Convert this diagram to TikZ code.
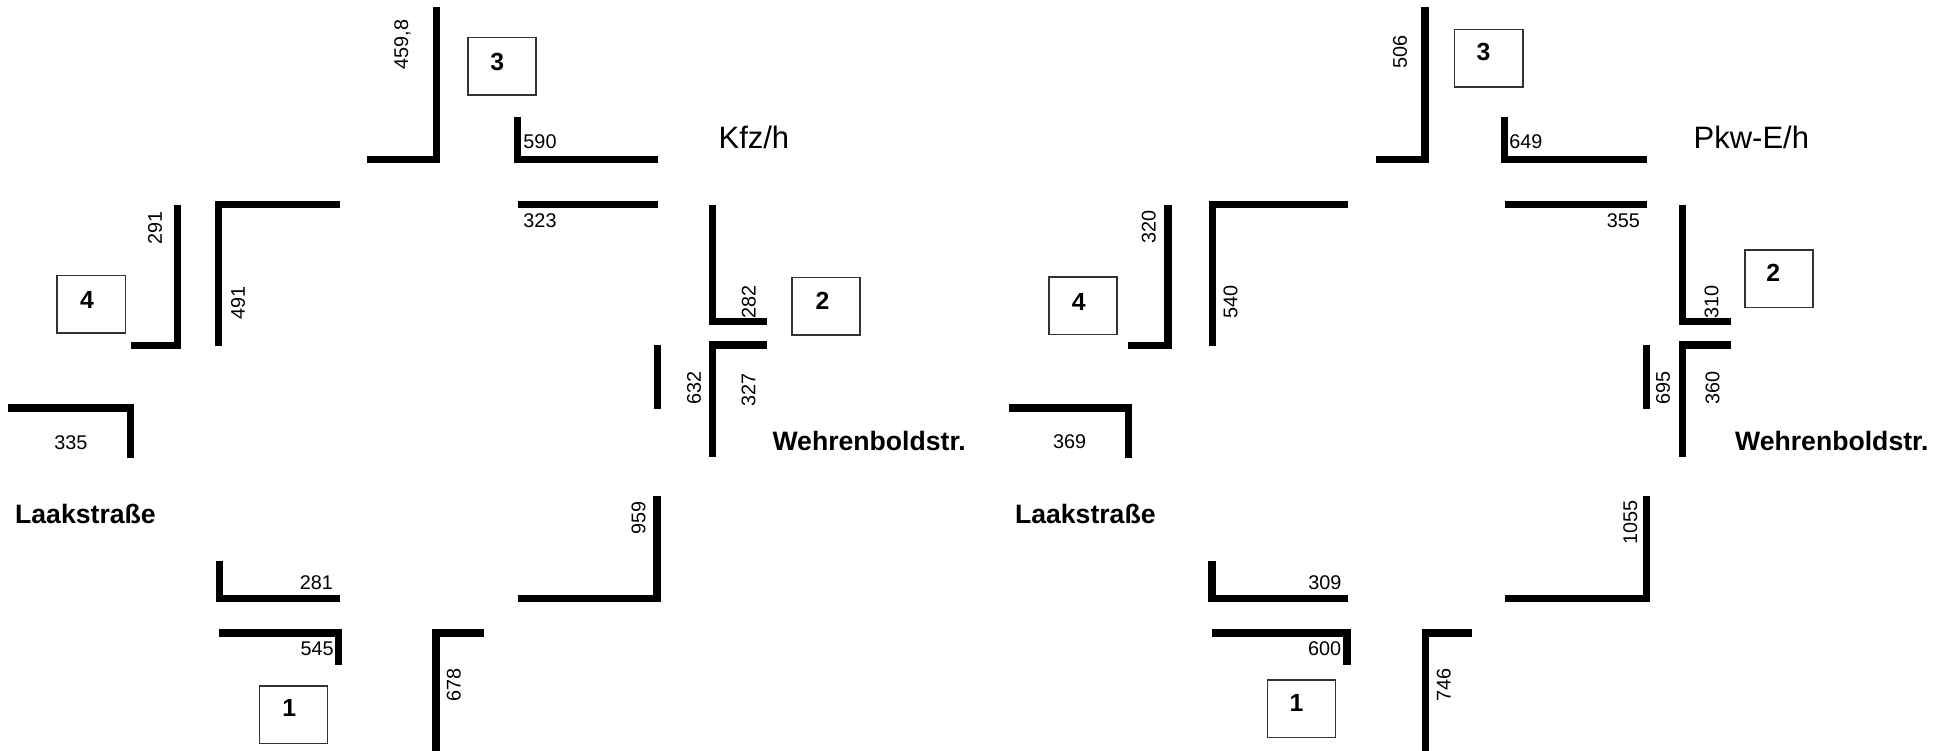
\documentclass[tikz,border=0pt]{standalone}
\usepackage{fontspec}
\setmainfont{Liberation Sans}
\usetikzlibrary{positioning,calc}
\tikzset{
	arm/.style={line width=5.8pt, line cap=butt, line join=miter},
	wert/.style={inner sep=0pt, font=\fontsize{16}{16}\selectfont},
	wertv/.style={wert, rotate=90},
	zufahrt/.style={draw=black!80, line width=1.2pt, minimum width=55pt, minimum height=46.5pt, inner sep=0pt},
	znum/.style={inner sep=0pt, font=\fontsize{20}{20}\selectfont\bfseries},
	strasse/.style={inner sep=0pt, font=\fontsize{21.5}{21.5}\selectfont\bfseries},
	einheit/.style={inner sep=0pt, anchor=base west, font=\fontsize{25}{25}\selectfont}
}

\begin{document}
\begin{tikzpicture}[x=1pt, y=-1pt]
	\useasboundingbox (0,0) rectangle (1568,605.6);

	% Kfz/h
	\begin{scope}
		\draw[arm] (296,129) -- (352.3,129) -- (352.3,5.4);
		\draw[arm] (418.1,94.2) -- (418.1,129) -- (531,129);
		\draw[arm] (418.2,165.4) -- (531,165.4);
		\draw[arm] (274.5,165.4) -- (176.7,165.4) -- (176.7,279.1);
		\draw[arm] (105.8,278.8) -- (143,278.8) -- (143,165.5);
		\draw[arm] (575,165.5) -- (575,259.9) -- (619,259.9);
		\draw[arm] (619,278.6) -- (575,278.6) -- (575,369.3);
		\draw[arm] (530.6,278.6) -- (530.6,330);
		\draw[arm] (6.5,329.4) -- (105.3,329.4) -- (105.3,369.5);
		\draw[arm] (418.2,483.5) -- (530.5,483.5) -- (530.5,400.5);
		\draw[arm] (177.2,453) -- (177.2,483.5) -- (274.7,483.5);
		\draw[arm] (176.6,511.1) -- (273.6,511.1) -- (273.6,537);
		\draw[arm] (352,606) -- (352,511.1) -- (391.1,511.1);

		\node[wertv] (a3l) at (325,36) {459,8};
		\node[wert]  (a3r) at (436,114.5) {590};
		\node[wert]  (a2o) at (436,178) {323};
		\node[wertv] (a4r) at (192.2,245) {491};
		\node[wertv] (a4l) at (125.2,183.7) {291};
		\node[wertv] (a2l) at (604.5,243.6) {282};
		\node[wertv] (a2r) at (604.3,315) {327};
		\node[wertv] (a2u) at (560.3,313.5) {632};
		\node[wert]  (a4u) at (57.3,357.2) {335};
		\node[wertv] (a1r) at (515.5,418.2) {959};
		\node[wert]  (a1o) at (255.4,470.3) {281};
		\node[wert]  (a1l) at (256,523.5) {545};
		\node[wertv] (a1u) at (366.5,553) {678};

		\node[einheit] (ekfz) at (580,119.7) {Kfz/h};
		\node[strasse] (swa) at (701.8,356) {Wehrenboldstr.};
		\node[strasse] (sla) at (69,414.8) {Laakstraße};

		\node[zufahrt] (k3a) at (405.3,53.4) {};
		\node[znum] (n3a) at ([shift={(-3.8,-3.6)}]k3a.center) {3};
		\node[zufahrt] (k4a) at (73.7,245.7) {};
		\node[znum] (n4a) at ([shift={(-3.4,-3.6)}]k4a.center) {4};
		\node[zufahrt] (k2a) at (666.8,247.2) {};
		\node[znum] (n2a) at ([shift={(-2.6,-4.4)}]k2a.center) {2};
		\node[zufahrt] (k1a) at (237,577) {};
		\node[znum] (n1a) at ([shift={(-3.4,-5)}]k1a.center) {1};
	\end{scope}

	% Pkw-E/h
	\begin{scope}
		\draw[arm] (1111,129) -- (1150.6,129) -- (1150.6,5.4);
		\draw[arm] (1215,94.2) -- (1215,129) -- (1329.6,129);
		\draw[arm] (1215.2,165.4) -- (1329.6,165.4);
		\draw[arm] (1088.2,165.4) -- (978.7,165.4) -- (978.7,279.1);
		\draw[arm] (911,278.8) -- (943,278.8) -- (943,165.5);
		\draw[arm] (1358.2,165.5) -- (1358.2,259.9) -- (1397.4,259.9);
		\draw[arm] (1397.4,278.6) -- (1358.2,278.6) -- (1358.2,369.3);
		\draw[arm] (1329.2,278.6) -- (1329.2,330);
		\draw[arm] (815,329.4) -- (911.1,329.4) -- (911.1,369.5);
		\draw[arm] (1215,483.5) -- (1329.2,483.5) -- (1329.2,400.5);
		\draw[arm] (978.5,453) -- (978.5,483.5) -- (1088.4,483.5);
		\draw[arm] (978.3,511.1) -- (1087.6,511.1) -- (1087.6,537);
		\draw[arm] (1150.9,606) -- (1150.9,511.1) -- (1188.5,511.1);

		\node[wertv] (b3l) at (1130.4,42) {506};
		\node[wert]  (b3r) at (1232,114) {649};
		\node[wert]  (b2o) at (1310.7,178) {355};
		\node[wertv] (b4r) at (993.6,244) {540};
		\node[wertv] (b4l) at (927.5,183) {320};
		\node[wertv] (b2l) at (1382,243.6) {310};
		\node[wertv] (b2r) at (1382.7,313.5) {360};
		\node[wertv] (b2u) at (1342.7,313.5) {695};
		\node[wert]  (b4u) at (863.6,357) {369};
		\node[wertv] (b1r) at (1316.3,421.9) {1055};
		\node[wert]  (b1o) at (1069.8,470.3) {309};
		\node[wert]  (b1l) at (1069.5,523.5) {600};
		\node[wertv] (b1u) at (1165.8,553) {746};

		\node[einheit] (epkw) at (1367.3,119.7) {Pkw-E/h};
		\node[strasse] (swb) at (1479,356) {Wehrenboldstr.};
		\node[strasse] (slb) at (876.3,414.8) {Laakstraße};

		\node[zufahrt] (k3b) at (1202,47) {};
		\node[znum] (n3b) at ([shift={(-4.3,-5.3)}]k3b.center) {3};
		\node[zufahrt] (k4b) at (874.5,247) {};
		\node[znum] (n4b) at ([shift={(-3.6,-3.4)}]k4b.center) {4};
		\node[zufahrt] (k2b) at (1436.5,225.1) {};
		\node[znum] (n2b) at ([shift={(-4.7,-4.4)}]k2b.center) {2};
		\node[zufahrt] (k1b) at (1050.8,572.4) {};
		\node[znum] (n1b) at ([shift={(-4,-4.5)}]k1b.center) {1};
	\end{scope}
\end{tikzpicture}
\end{document}
